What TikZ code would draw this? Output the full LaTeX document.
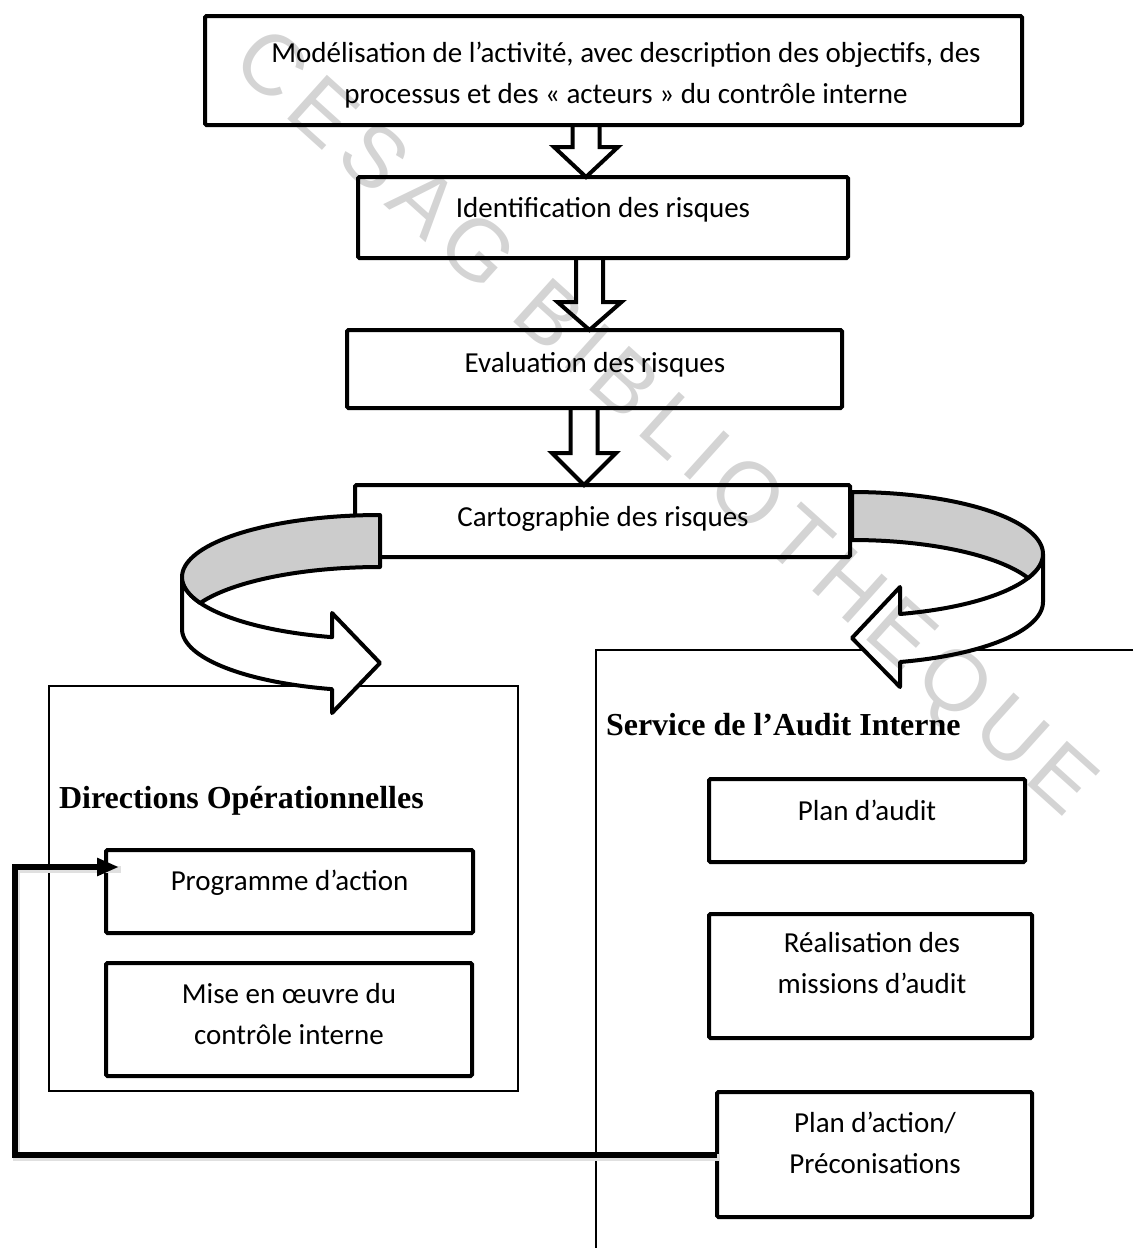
\documentclass[tikz,border=0pt]{standalone}
\usepackage{fontspec}
\setmainfont{Carlito}
\newfontfamily\headfont{Liberation Serif}
\newfontfamily\wmfont[LetterSpace=12]{Liberation Sans}
\usetikzlibrary{arrows.meta,calc}

% hollow block arrow pointing down: source node, target node, axis x, head length
\newcommand\blkarrow[4]{%
  \draw[hollow] (#1.south -| #3-13.5,0)
    -- ($(#2.north -| #3-13.5,0)+(0,-#4)$)
    -- ($(#2.north -| #3-32,0)+(0,-#4)$)
    -- (#2.north -| #3,0)
    -- ($(#2.north -| #3+32,0)+(0,-#4)$)
    -- ($(#2.north -| #3+13.5,0)+(0,-#4)$)
    -- (#1.south -| #3+13.5,0);}

% curved ribbon arrows: front (white) parts and back (grey) bands
\newcommand\leftfront{plot[domain=180:104, samples=40] ({380+198*cos(\x)},{577+62*sin(\x)})
  -- (332,613) -- (380,663) -- (332,713)
  -- plot[domain=104:180, samples=40] ({380+198*cos(\x)},{629+62*sin(\x)}) -- cycle}
\newcommand\leftband{plot[domain=270:155.2, samples=50] ({380+198*cos(\x)},{577+62*sin(\x)})
  -- plot[domain=204.8:270, samples=40] ({380+198*cos(\x)},{629+62*sin(\x)}) -- cycle}
\newcommand\rightfront{plot[domain=0:75.4, samples=40] ({852+191*cos(\x)},{554+62*sin(\x)})
  -- (900,587) -- (852,638) -- (900,687)
  -- plot[domain=75.4:0, samples=40] ({852+191*cos(\x)},{602+62*sin(\x)}) -- cycle}
\newcommand\rightband{plot[domain=-90:22.8, samples=50] ({852+191*cos(\x)},{554+62*sin(\x)})
  -- plot[domain=-22.8:-90, samples=40] ({852+191*cos(\x)},{602+62*sin(\x)}) -- cycle}

\begin{document}
\begin{tikzpicture}[x=1pt,y=-1pt,
  every node/.style={inner sep=0pt, outer sep=0pt},
  box/.style={draw, line width=4pt, rounded corners=1.5pt},
  frame/.style={draw, line width=1.6pt},
  txt/.style={font=\fontsize{29}{40.5}\selectfont, align=center, anchor=base},
  head/.style={font=\headfont\bfseries\fontsize{32}{38}\selectfont, anchor=base west},
  hollow/.style={line width=4pt, line join=miter},
  rim/.style={draw, line width=4pt, line join=round},
  bandfill/.style={fill=black!20},
  wmtext/.style={font=\wmfont\fontsize{86}{86}\selectfont, text=black!17},
  link/.style={line width=6pt, line join=miter,
    -{Triangle[length=22pt,width=17pt]},
    preaction={draw=black!12, line width=7pt, -,
      transform canvas={shift={(1.5pt,-2.5pt)}}}}
]
\useasboundingbox (0,0) rectangle (1133,1248);

% the two departments
\node[frame, minimum width=469pt, minimum height=405pt] (dirgrp) at (283.5,888.5) {};
\coordinate (audcorner) at (596,650);
\draw[frame] (1133,650) -- (audcorner) -- (596,1248);

% white faces of the curved arrows
\fill[white] \leftfront;
\fill[white] \rightfront;

% library stamp
\node[wmtext, rotate=-42] (stamp) at (662,426) {CESAG BIBLIOTHEQUE};

\draw[rim] \leftfront;
\draw[rim] \rightfront;

% risk map box, partly hidden by the grey backs of the ribbons
\node[box, minimum width=495pt, minimum height=72pt] (carto) at (602.5,521) {};
\node[txt] (cartotxt) at (603,526) {Cartographie des risques};
\fill[bandfill] \leftband;
\draw[rim] \leftband;
\fill[bandfill] \rightband;
\draw[rim] \rightband;

% main chain
\node[box, minimum width=817pt, minimum height=109pt] (model) at (613.5,70.5) {};
\node[txt] (modeltxt) at (626,103) {Modélisation de l’activité, avec description des objectifs, des\\processus et des « acteurs » du contrôle interne};
\node[box, minimum width=490pt, minimum height=81pt] (ident) at (603,217.5) {};
\node[txt] (identtxt) at (603,217) {Identification des risques};
\node[box, minimum width=495pt, minimum height=78pt] (eval) at (594.5,369) {};
\node[txt] (evaltxt) at (595,372) {Evaluation des risques};

\blkarrow{model}{ident}{586}{30}
\blkarrow{ident}{eval}{589.5}{28}
\blkarrow{eval}{carto}{584}{32}

% operational directions
\node[head] (dirtitle) at (59,808) {Directions Opérationnelles};
\node[box, minimum width=367pt, minimum height=83pt] (prog) at (289.5,891.5) {};
\node[txt] (progtxt) at (289.5,890) {Programme d’action};
\node[box, minimum width=366pt, minimum height=113pt] (mise) at (289,1019.5) {};
\node[txt] (misetxt) at (289,1044) {Mise en œuvre du\\contrôle interne};

% internal audit
\node[head] (audtitle) at (606,735) {Service de l’Audit Interne};
\node[box, minimum width=316pt, minimum height=83pt] (plaudit) at (867,820.5) {};
\node[txt] (plaudittxt) at (867,820) {Plan d’audit};
\node[box, minimum width=323pt, minimum height=124pt] (real) at (870.5,976) {};
\node[txt] (realtxt) at (872,993) {Réalisation des\\missions d’audit};
\node[box, minimum width=315pt, minimum height=125pt] (plact) at (874.5,1154.5) {};
\node[txt] (placttxt) at (875,1173) {Plan d’action/\\Préconisations};

% feedback from the audit action plan to the action programme
\draw[link] (plact.west) -- ++(-702,0) |- ($(prog.north west)+(13,17)$);
\end{tikzpicture}
\end{document}
